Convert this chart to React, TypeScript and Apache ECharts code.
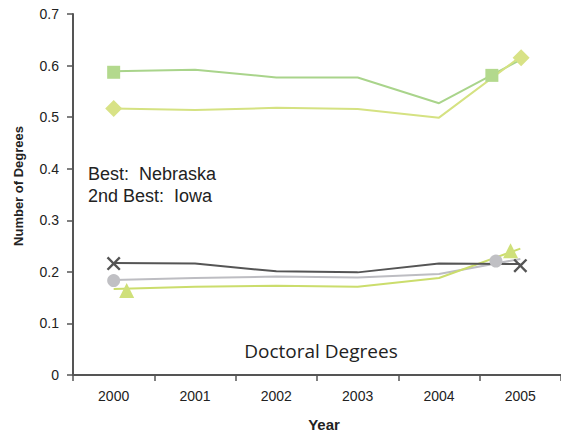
import React, { useEffect, useRef } from "react";
import * as echarts from "echarts";

const years = ["2000", "2001", "2002", "2003", "2004", "2005"];

const nebraska = [0.589, 0.592, 0.577, 0.577, 0.527, 0.611];
const iowa = [0.517, 0.514, 0.518, 0.516, 0.499, 0.617];
const darkSeries = [0.217, 0.216, 0.201, 0.199, 0.216, 0.215];
const lightSeries = [0.184, 0.188, 0.191, 0.189, 0.196, 0.225];
const triSeries = [0.167, 0.171, 0.173, 0.171, 0.188, 0.245];

// marker positions (x in category-index units, y in value units)
const squareMarkers = [[0, 0.587], [4.65, 0.581]];
const diamondMarkers = [[0, 0.517], [5.01, 0.615]];
const crossMarkers = [[0, 0.216], [5.0, 0.212]];
const circleMarkers = [[0, 0.183], [4.7, 0.221]];
const triangleMarkers = [[0.16, 0.164], [4.88, 0.241]];

const noteLines = ["Best:\u00a0\u00a0Nebraska", "2nd Best:\u00a0\u00a0Iowa"];
const chartTitle = "Doctoral Degrees";
const yAxisTitle = "Number of Degrees";
const xAxisTitle = "Year";

const CROSS =
  "path://M0,1.7 L1.7,0 L7,5.3 L12.3,0 L14,1.7 L8.7,7 L14,12.3 L12.3,14 L7,8.7 L1.7,14 L0,12.3 L5.3,7 Z";

export default function App() {
  const ref = useRef<HTMLDivElement>(null);
  useEffect(() => {
    document.body.style.margin = "0";
    const chart = echarts.init(ref.current!, null, { renderer: "svg" });
    const axisLine = { show: true, onZero: false, lineStyle: { color: "#555", width: 2 } };
    const lineSeries = (data: number[], color: string, z = 2) => ({
      type: "line",
      data,
      xAxisIndex: 0,
      yAxisIndex: 0,
      showSymbol: false,
      symbol: "none",
      lineStyle: { color, width: 2 },
      z,
    });
    const marker = (data: number[][], symbol: string, size: number, color: string) => ({
      type: "scatter",
      data,
      xAxisIndex: 1,
      yAxisIndex: 0,
      symbol,
      symbolSize: size,
      itemStyle: { color, opacity: 1 },
      z: 5,
    });
    chart.setOption({
      animation: false,
      backgroundColor: "#fff",
      grid: { left: 73, right: -6, top: 14, bottom: 60 },
      xAxis: [
        {
          type: "category",
          data: years,
          boundaryGap: true,
          axisLine,
          axisTick: { show: true, length: 6, lineStyle: { color: "#555", width: 1.5 } },
          axisLabel: {
            color: "#222",
            fontFamily: "Liberation Sans, Arial, sans-serif",
            fontSize: 14,
            margin: 14,
          },
          name: xAxisTitle,
          nameLocation: "middle",
          nameGap: 42,
          nameTextStyle: {
            color: "#222",
            fontFamily: "Liberation Sans, Arial, sans-serif",
            fontSize: 15,
            fontWeight: "bold",
            padding: [0, 0, 0, 14],
          },
          splitLine: { show: false },
        },
        {
          type: "value",
          min: -0.5,
          max: 5.5,
          show: false,
        },
      ],
      yAxis: {
        type: "value",
        min: 0,
        max: 0.7,
        interval: 0.1,
        axisLine,
        axisTick: { show: true, length: 6, lineStyle: { color: "#555", width: 1.5 } },
        axisLabel: {
          color: "#222",
          fontFamily: "Liberation Sans, Arial, sans-serif",
          fontSize: 14,
          margin: 14,
          formatter: (v: number) => (v === 0 ? "0" : v.toFixed(1)),
        },
        splitLine: { show: false },
      },
      graphic: [
        {
          type: "text",
          x: 18,
          y: 186,
          rotation: Math.PI / 2,
          style: {
            text: yAxisTitle,
            fontFamily: "Liberation Sans, Arial, sans-serif",
            fontSize: 13,
            fontWeight: "bold",
            fill: "#222",
            align: "center",
            verticalAlign: "middle",
          },
        },
        {
          type: "text",
          left: 88,
          top: 163,
          style: {
            text: noteLines.join("\n"),
            fontFamily: "Liberation Sans, Arial, sans-serif",
            fontSize: 18,
            lineHeight: 22,
            fill: "#222",
          },
        },
        {
          type: "text",
          x: 321,
          y: 351,
          style: {
            text: chartTitle,
            fontFamily: "Open Sans, sans-serif",
            fontSize: 19,
            fill: "#222",
            align: "center",
            verticalAlign: "middle",
          },
        },
      ],
      series: [
        lineSeries(nebraska, "#a9d48b"),
        lineSeries(iowa, "#d5e282"),
        lineSeries(lightSeries, "#bdbdc2"),
        lineSeries(triSeries, "#cbdd6c"),
        lineSeries(darkSeries, "#555555", 3),
        marker(squareMarkers, "rect", 13, "#b3d98d"),
        marker(diamondMarkers, "diamond", 17, "#d8e286"),
        marker(circleMarkers, "circle", 13, "#c0c0c4"),
        marker(triangleMarkers, "triangle", 15, "#cfe07a"),
        marker(crossMarkers, CROSS, 14, "#555555"),
      ],
    });
    return () => chart.dispose();
  }, []);
  return <div ref={ref} style={{ width: 561, height: 437 }} />;
}
